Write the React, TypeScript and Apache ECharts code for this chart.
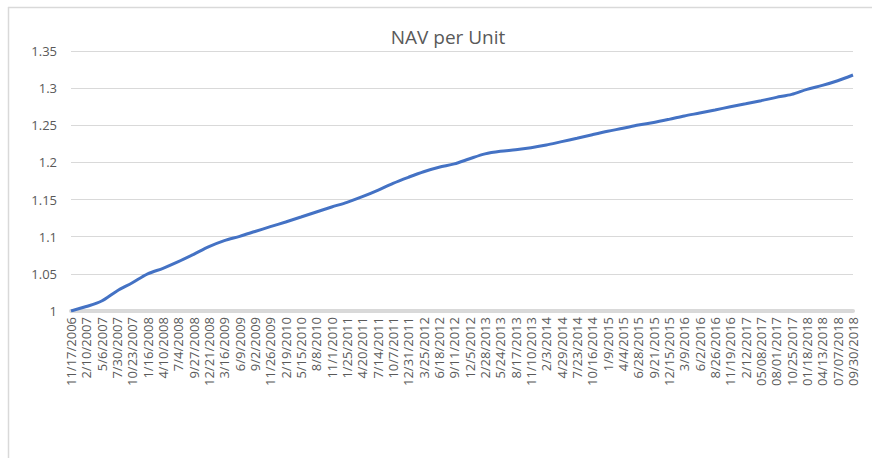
import React, { useEffect, useRef } from "react";
import * as echarts from "echarts";

const dates: string[] = [
  "11/17/2006", "2/10/2007", "5/6/2007", "7/30/2007", "10/23/2007", "1/16/2008",
  "4/10/2008", "7/4/2008", "9/27/2008", "12/21/2008", "3/16/2009", "6/9/2009",
  "9/2/2009", "11/26/2009", "2/19/2010", "5/15/2010", "8/8/2010", "11/1/2010",
  "1/25/2011", "4/20/2011", "7/14/2011", "10/7/2011", "12/31/2011", "3/25/2012",
  "6/18/2012", "9/11/2012", "12/5/2012", "2/28/2013", "5/24/2013", "8/17/2013",
  "11/10/2013", "2/3/2014", "4/29/2014", "7/23/2014", "10/16/2014", "1/9/2015",
  "4/4/2015", "6/28/2015", "9/21/2015", "12/15/2015", "3/9/2016", "6/2/2016",
  "8/26/2016", "11/19/2016", "2/12/2017", "05/08/2017", "08/01/2017", "10/25/2017",
  "01/18/2018", "04/13/2018", "07/07/2018", "09/30/2018",
];

const navPerUnit: number[] = [
  1.0, 1.006, 1.0135, 1.027, 1.038, 1.05,
  1.0575, 1.0664, 1.0763, 1.0866, 1.0947, 1.1005,
  1.107, 1.1135, 1.1198, 1.1265, 1.1333, 1.14,
  1.1463, 1.1539, 1.1625, 1.1719, 1.18, 1.1875,
  1.1935, 1.198, 1.205, 1.2115, 1.215, 1.217,
  1.2198, 1.2234, 1.228, 1.2325, 1.2373, 1.2419,
  1.246, 1.2504, 1.2538, 1.258, 1.2625, 1.2665,
  1.2706, 1.275, 1.279, 1.2831, 1.2876, 1.2916,
  1.2984, 1.3037, 1.31, 1.3177,
];

const yMin = 1;
const yMax = 1.35;
const yStep = 0.05;

export default function App() {
  const ref = useRef<HTMLDivElement>(null);

  useEffect(() => {
    if (!ref.current) return;
    const chart = echarts.init(ref.current, null, { renderer: "svg" });
    const font = "'Open Sans', 'Noto Sans', sans-serif";
    chart.setOption({
      animation: false,
      backgroundColor: "#ffffff",
      textStyle: { fontFamily: font },
      title: {
        text: "NAV per Unit",
        left: 443,
        top: 22,
        textAlign: "center",
        textStyle: { fontFamily: font, fontSize: 19, fontWeight: "normal", color: "#595959" },
      },
      graphic: [
        {
          type: "line",
          shape: { x1: 8, y1: 7.5, x2: 872, y2: 7.5 },
          style: { stroke: "#d9d9d9", lineWidth: 1.5 },
          silent: true,
        },
        {
          type: "line",
          shape: { x1: 8.5, y1: 7, x2: 8.5, y2: 458 },
          style: { stroke: "#d9d9d9", lineWidth: 1.5 },
          silent: true,
        },
      ],
      grid: { left: 71, right: 19, top: 51, bottom: 147, containLabel: false },
      xAxis: {
        type: "category",
        data: dates,
        boundaryGap: false,
        axisLine: { show: true, lineStyle: { color: "#d9d9d9", width: 4 } },
        axisTick: { show: false },
        axisLabel: {
          interval: 0,
          rotate: 90,
          margin: 6,
          fontSize: 13,
          color: "#595959",
          fontFamily: font,
        },
        splitLine: { show: false },
      },
      yAxis: {
        type: "value",
        min: yMin,
        max: yMax,
        interval: yStep,
        axisLine: { show: false },
        axisTick: { show: false },
        axisLabel: { fontSize: 13, color: "#595959", margin: 14, fontFamily: font },
        splitLine: { lineStyle: { color: "#d9d9d9", width: 1 } },
      },
      series: [
        {
          type: "line",
          data: navPerUnit,
          showSymbol: false,
          smooth: 0.3,
          lineStyle: { color: "#4472C4", width: 3 },
          itemStyle: { color: "#4472C4" },
        },
      ],
    });
    return () => chart.dispose();
  }, []);

  return (
    <div
      ref={ref}
      style={{ position: "absolute", left: 0, top: 0, width: 872, height: 458 }}
    />
  );
}
